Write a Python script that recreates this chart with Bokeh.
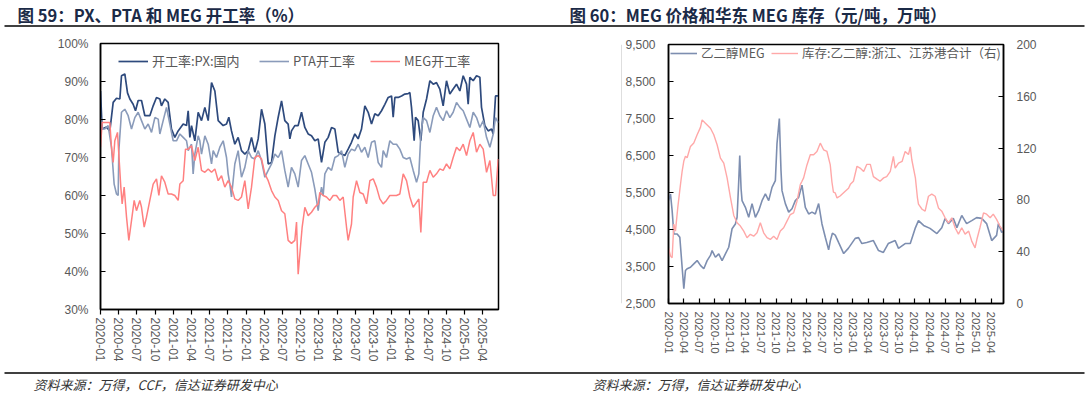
import math
from bokeh.plotting import figure
from bokeh.layouts import column, row
from bokeh.models import (Range1d, LinearAxis, FixedTicker, PrintfTickFormatter,
                          NumeralTickFormatter, Legend, LegendItem, AllLabels)
from bokeh.core.properties import value
from bokeh.embed import file_html
from bokeh.resources import INLINE

# ---------------- data ----------------
tick_months = list(range(0, 64, 3))
tick_labels = ["2020-01", "2020-04", "2020-07", "2020-10", "2021-01", "2021-04", "2021-07",
               "2021-10", "2022-01", "2022-04", "2022-07", "2022-10", "2023-01", "2023-04",
               "2023-07", "2023-10", "2024-01", "2024-04", "2024-07", "2024-10", "2025-01",
               "2025-04"]

# months since 2020-01
px_t = [0, 0.27, 0.99, 1.54, 2.09, 2.64, 3.19, 3.46, 4.01, 4.45, 4.84, 5.38, 5.77, 6.21, 6.76,
        7.31, 8.13, 8.68, 9.23, 9.78, 10.05, 10.60, 11.15, 11.70, 12.25, 12.80, 13.63, 14.18,
        14.45, 14.73, 15.00, 15.55, 16.10, 16.65, 17.20, 17.75, 18.30, 18.85, 19.40, 20.22,
        20.77, 21.15, 21.59, 22.14, 22.69, 23.24, 23.79, 24.34, 24.89, 25.44, 25.99, 26.54,
        27.09, 27.64, 28.19, 28.74, 29.29, 29.84, 30.38, 30.93, 31.21, 31.48, 32.03, 32.58,
        33.13, 33.68, 34.23, 34.78, 35.33, 35.88, 36.43, 36.98, 37.53, 38.08, 38.63, 39.18,
        39.73, 40.27, 40.82, 41.37, 41.92, 42.47, 43.02, 43.57, 44.12, 44.67, 45.22, 45.77,
        46.32, 46.87, 47.42, 47.97, 48.24, 48.52, 49.07, 49.62, 50.16, 50.71, 50.99, 51.26,
        51.70, 51.92, 52.36, 52.80, 53.19, 53.74, 54.29, 54.84, 55.38, 55.93, 56.48, 57.03,
        57.58, 58.13, 58.68, 59.23, 59.78, 60.33, 60.60, 60.88, 61.43, 61.98, 62.53, 62.80,
        63.35, 63.90, 64.45, 64.73, 65.11, 65.55]
px_v = [87.5, 77.5, 78, 77, 84.5, 85.6, 85.4, 91.5, 92, 87, 85.4, 84, 82.3, 85, 85,
        81, 81, 83.6, 85.8, 85.4, 83.6, 85.4, 84.5, 77.5, 75.3, 77, 78.8, 78.4,
        82.3, 75.3, 78.4, 74.4, 81.9, 79.7, 83.2, 79.7, 89.7, 87.5, 79.7, 78.4,
        78.8, 80.6, 77, 73.5, 75.3, 71.8, 70.9, 71.8, 75.3, 71.4, 74.9, 82.7,
        78.8, 68.3, 68.7, 75.7, 80.6, 84.9, 79.7, 78.8, 74.9, 77, 78.4, 78.4,
        81.9, 77.9, 76.2, 75.7, 74.4, 74.9, 68.7, 74, 75.3, 77.9, 77.5, 71.4,
        70.9, 70.5, 72.2, 74, 76.2, 74.9, 77.5, 83.6, 81.9, 78.8, 81.5, 81,
        82.3, 84, 85.8, 86.2, 80.6, 85.8, 85.8, 86.2, 86.7, 86.8, 87.1, 83.2,
        74.4, 80.6, 79.7, 74.4, 81.9, 85.4, 90.2, 89.3, 89.7, 88, 83.6, 90.2,
        86.7, 88, 89.3, 87.5, 91.5, 89.3, 84, 91.1, 90.2, 91.5, 91.1, 83.2,
        78.4, 77, 77.5, 76.2, 86.2, 86.2]

pta_t = [0, 0.27, 0.71, 1.26, 1.81, 2.25, 2.64, 2.91, 3.02, 3.46, 4.01, 4.56, 5.11, 5.66, 6.21,
         6.76, 7.31, 7.86, 8.41, 8.96, 9.51, 9.78, 10.33, 10.88, 11.43, 11.98, 12.53, 13.08,
         13.63, 14.18, 14.45, 15.00, 15.27, 15.55, 16.10, 16.37, 16.65, 17.20, 17.75, 18.30,
         18.57, 19.12, 19.67, 20.22, 20.77, 21.04, 21.32, 21.59, 22.14, 22.69, 23.24, 23.79,
         24.34, 24.89, 25.44, 25.99, 26.54, 27.09, 27.64, 28.19, 28.74, 29.29, 29.84, 30.38,
         30.93, 31.48, 32.03, 32.58, 33.13, 33.68, 34.23, 34.78, 35.33, 35.88, 36.15, 36.43,
         36.70, 36.98, 37.53, 38.08, 38.63, 39.18, 39.73, 40.27, 40.82, 41.37, 41.92, 42.47,
         43.02, 43.57, 44.12, 44.67, 45.22, 45.77, 46.32, 46.59, 47.14, 47.69, 48.24, 48.79,
         49.34, 49.89, 50.44, 50.99, 51.54, 52.09, 52.47, 52.80, 53.19, 53.74, 54.29, 54.84,
         55.38, 55.93, 56.48, 57.03, 57.58, 58.13, 58.68, 59.23, 59.78, 60.33, 60.88, 61.43,
         61.98, 62.53, 63.08, 63.63, 64.18, 64.73, 65.11, 65.55]
pta_v = [80.5, 77.5, 77.5, 78.4, 72.7, 63, 60.4, 60, 71.8, 81.9, 82.7, 81, 77.5, 80.5, 81.9,
         79.7, 77.5, 78.8, 76.6, 80.5, 80.1, 76.2, 79.7, 83.2, 78.8, 74.4, 74.4, 76.2,
         75.3, 74.4, 71.8, 73.5, 65.7, 70.9, 75.7, 74.4, 70.9, 75.7, 73.5, 68.3,
         71.8, 70, 72.7, 74.4, 70, 65.7, 63, 59.6, 68.3, 71.8, 64.8, 67.4,
         71.8, 70, 69.6, 71.8, 69.2, 64.8, 66.6, 68.3, 70.9, 70, 71.8, 66.6,
         62.2, 67.4, 65.7, 62.2, 69.2, 70.5, 68.3, 66.1, 61.7, 56, 59.6, 62.2,
         60, 65.7, 67.4, 66.6, 70, 70.5, 71.8, 67.4, 70.9, 72.2, 71.8, 73.5,
         71.4, 72.7, 70, 74, 74.4, 68.7, 67.4, 71.8, 70, 74.4, 73.5, 73.5,
         72.2, 70, 69.6, 70, 66.6, 63.5, 65.7, 76.2, 80.5, 79.7, 76.6, 81,
         83.2, 81, 79.7, 82.3, 80.5, 81.9, 84.5, 83.2, 82.3, 80.1, 77.9, 81.9,
         80.5, 77.9, 79.7, 75.3, 72.7, 76.2, 80.5, 79.2]

meg_t = [0, 0.27, 0.71, 1.54, 1.81, 2.09, 2.36, 2.80, 3.02, 3.35, 3.57, 3.90, 4.29, 4.67, 5.11,
         5.55, 5.93, 6.48, 6.76, 7.20, 7.58, 8.13, 8.68, 9.23, 9.62, 10.05, 10.60, 11.15, 11.70,
         12.25, 12.80, 13.08, 13.63, 14.01, 14.45, 15.00, 15.55, 16.10, 16.65, 17.20, 17.75,
         18.30, 18.85, 19.40, 19.95, 20.49, 21.04, 21.59, 22.14, 22.69, 23.24, 23.79, 24.34,
         24.89, 25.44, 25.99, 26.54, 27.09, 27.64, 28.19, 28.74, 29.29, 29.84, 30.38, 30.93,
         31.48, 32.03, 32.31, 32.58, 32.86, 33.24, 33.68, 34.23, 34.78, 35.33, 35.88, 36.15,
         36.70, 37.25, 37.80, 38.35, 38.90, 39.45, 40.00, 40.55, 40.82, 41.37, 41.65, 42.20,
         42.75, 43.30, 43.85, 44.40, 44.95, 45.49, 46.04, 46.59, 47.14, 47.69, 48.24, 48.79,
         49.34, 49.89, 50.44, 50.99, 51.54, 52.09, 52.47, 52.80, 53.19, 53.74, 54.29, 54.84,
         55.38, 55.93, 56.48, 57.03, 57.58, 58.13, 58.68, 59.23, 59.78, 60.33, 60.88, 61.43,
         61.98, 62.53, 63.08, 63.63, 64.18, 64.73, 65.11, 65.55]
meg_v = [72.7, 79.2, 79.2, 79.2, 72.7, 68.7, 74.4, 76.6, 70.9, 62.2, 57.8, 62.2, 54.3, 48.2, 53.4,
         58.7, 56, 58.7, 56.9, 51.7, 54.3, 58.7, 63, 64.4, 60, 65.2, 63.5, 60.4, 60.4,
         60, 58.7, 63, 63.9, 72.2, 72.2, 73.1, 69.2, 72.7, 66.6, 66.1, 67,
         66.1, 67, 63.9, 65.2, 62.2, 63.9, 62.2, 59.1, 58.7, 59.6, 63.9, 56.5,
         62.2, 70, 70.5, 69.6, 65.7, 63.9, 61.3, 59.6, 58.7, 56, 55.2, 48.2,
         47.4, 48.2, 53, 39.3, 44.6, 51.7, 56.9, 54.7, 55.6, 56.9, 57.8, 60.8,
         60, 59.6, 58.7, 60, 60, 58.7, 59.6, 51.7, 48.2, 52.5, 59.6, 63.9,
         60.8, 60.4, 57.8, 63.9, 64.4, 62.2, 59.1, 57.8, 58.7, 60, 60, 60,
         60.4, 65.7, 63.9, 59.6, 56.9, 58.2, 59.1, 50.3, 63.5, 63.5, 66.6, 64.8,
         65.7, 67, 66.6, 68.3, 67, 70, 72.7, 71.8, 73.5, 70.5, 74.4, 76.6,
         71.4, 73.5, 72.2, 66.1, 69.2, 60, 60, 69.6]

price_t = [0, 0.39, 0.71, 1.04, 1.69, 2.21, 2.66, 2.99, 3.31, 3.64, 4.29, 4.94, 5.59, 6.24, 6.89,
           7.54, 8.19, 8.51, 9.16, 9.81, 10.46, 11.11, 11.76, 12.41, 13.06, 13.39, 13.71, 13.91,
           14.17, 14.36, 15.01, 15.66, 16.31, 16.96, 17.61, 18.26, 18.91, 19.56, 20.21, 20.86,
           21.18, 21.64, 21.96, 22.16, 22.81, 23.46, 24.11, 24.76, 25.41, 26.06, 26.71, 27.36,
           28.01, 28.66, 29.31, 29.96, 30.61, 31.26, 31.6, 32.0, 32.55, 33.2, 34.2, 35.1, 36.45,
           37.1, 37.75, 38.7, 40.0, 41.0, 41.95, 42.9, 44.25, 44.9, 46.2, 47.2, 48.15, 48.8,
           49.8, 51.05, 52.4, 53.35, 54.0, 54.65, 55.6, 56.3, 57.25, 58.2, 59.2, 60.15, 61.15,
           62.1, 63.1, 64.05, 64.4, 65.05, 65.4]
price_v = [5280, 5460, 5010, 4380, 4380, 4290, 3480, 2900, 3390, 3440, 3480, 3570, 3660, 3530, 3440,
           3660, 3800, 3930, 3750, 3840, 3660, 3840, 4020, 4520, 4650, 4830, 5800, 6500,
           5600, 5280, 5100, 4830, 5200, 4830, 5010, 5280, 5460, 5280, 5640, 5820,
           6820, 7500, 6100, 5550, 5200, 4970, 5060, 5280, 5370, 5700, 5100, 4920,
           4970, 4920, 5200, 4650, 4290, 3950, 4200, 4400, 4350, 4150, 3850, 3990, 4260,
           4280, 4120, 4150, 4200, 3930, 3880, 4120, 4200, 3990, 4120, 4120, 4530, 4740,
           4610, 4530, 4390, 4550, 4800, 4660, 4800, 4550, 4880, 4660, 4740, 4820, 4800,
           4660, 4200, 4340, 4660, 4420, 4470]

inv_t = [0, 0.39, 0.71, 1.04, 1.36, 1.81, 2.34, 2.66, 2.99, 3.31, 3.64, 4.29, 4.94, 5.59, 6.24,
         6.56, 7.21, 8.19, 8.84, 9.49, 10.14, 10.79, 11.44, 12.09, 12.74, 13.39, 14.04, 14.69,
         15.33, 15.98, 16.63, 17.28, 17.93, 18.58, 19.23, 19.88, 20.53, 21.18, 21.83, 22.48,
         23.13, 23.78, 24.43, 25.08, 25.73, 26.06, 26.38, 27.03, 27.68, 28.33, 28.98, 29.63,
         30.28, 30.93, 31.58, 31.9, 32.2, 32.55, 32.9, 33.5, 34.5, 35.15, 35.5, 36.1, 36.8,
         37.4, 38.1, 38.7, 39.4, 40.0, 40.7, 41.3, 42.0, 42.6, 43.3, 43.9, 44.25, 44.9, 45.6,
         45.9, 46.2, 46.85, 47.2, 47.5, 48.2, 48.6, 48.8, 49.5, 50.1, 50.75, 51.4, 52.05, 52.7,
         53.35, 54.0, 54.65, 55.3, 55.95, 56.6, 57.25, 57.9, 58.6, 59.2, 59.85, 60.2, 60.8,
         61.5, 62.1, 62.8, 63.4, 64.05, 64.7, 65.4]
inv_v = [43, 36.7, 35.4, 61.3, 55.9, 74, 92, 102, 110, 113.7, 112.5, 121.3, 124, 130.3, 136,
         141.8, 139.2, 135.3, 130.3, 122.6, 112.3, 108.4, 97, 82, 68, 62.3, 59.8, 55.9,
         50.8, 53.4, 52, 54.6, 62.3, 54.6, 50.8, 49.5, 52, 49.5, 55.9, 58.5,
         63.6, 68.7, 70, 79, 91.8, 94.4, 97, 107, 114.9, 114.9, 117.4, 123.8,
         118.7, 117.4, 107, 94, 86, 85.4, 81.5, 83, 86.7, 89, 92, 94.4, 106,
         104.6, 102, 107.4, 107.4, 98, 96, 94.4, 97, 98, 102, 113.6, 104.6, 108.4, 109.7,
         113.6, 117.4, 115, 121, 111, 97, 81.5, 76.7, 72.8, 71.3, 82.8, 84.4, 82.8, 73.8,
         71.3, 66.2, 62.3, 66.2, 58.5, 53.6, 58.5, 53.6, 55.9, 48.2, 43, 49.4, 58.5,
         70, 69, 66.2, 69, 65, 59.8, 55.9]

title_left = "图 59：PX、PTA 和 MEG 开工率（%）"
title_right = "图 60：MEG 价格和华东 MEG 库存（元/吨，万吨）"
source_left = "资料来源：万得，CCF，信达证券研发中心"
source_right = "资料来源：万得，信达证券研发中心"
legend_left = ["开工率:PX:国内", "PTA开工率", "MEG开工率"]
legend_right = ["乙二醇MEG", "库存:乙二醇:浙江、江苏港合计（右)"]

C_PX = "#2E4A7D"
C_PTA = "#8A9BBA"
C_MEG = "#FF8080"
C_PRICE = "#7D8EB0"
C_INV = "#FFA8A8"
TXT = "#595959"
CJK = "Noto Sans CJK SC"
GREY_BORDER = "#BDBDBD"

tick_map = {m: lab for m, lab in zip(tick_months, tick_labels)}


def blank_fig(w, h, x0, x1, y0, y1):
    f = figure(width=w, height=h, output_backend="svg", toolbar_location=None,
               x_range=Range1d(x0, x1), y_range=Range1d(y1, y0),
               x_axis_type=None, y_axis_type=None, min_border=0)
    f.outline_line_color = None
    f.xgrid.visible = False
    f.ygrid.visible = False
    return f


def style_axis(ax, tick_in, tick_out, size="12px"):
    ax.axis_line_color = "black"
    ax.axis_line_width = 1.5
    ax.major_tick_line_color = "black"
    ax.major_tick_line_width = 1.2
    ax.major_tick_in = tick_in
    ax.major_tick_out = tick_out
    ax.minor_tick_line_color = None
    ax.major_label_text_color = TXT
    ax.major_label_text_font = "Liberation Sans"
    ax.major_label_text_font_size = size
    ax.major_label_policy = AllLabels()


def add_legend(p, label, renderer, vx, vy, size="13px", gw=30):
    lg = Legend(items=[LegendItem(label=label, renderers=[renderer])],
                location=(vx, vy), orientation="horizontal",
                padding=0, margin=0, spacing=0,
                glyph_width=gw, glyph_height=16, label_height=16, label_standoff=4,
                label_text_font=CJK, label_text_font_size=size,
                label_text_color=TXT, background_fill_alpha=0,
                border_line_color=None)
    p.add_layout(lg)


# ---------------- header (page y 0..30) ----------------
hdr = blank_fig(1088, 30, 0, 1088, 0, 30)
hdr.text(x=[17, 569], y=[14, 14], text=[title_left, title_right],
         text_font=value(CJK), text_font_style="bold", text_font_size="16.5px",
         text_color="#1B2A47", text_baseline="middle", text_align="left")
hdr.segment(x0=[4], y0=[25.5], x1=[1084], y1=[25.5], line_color="black", line_width=1.3)

# ---------------- left chart (page x 0..544, y 30..368) ----------------
p1 = figure(width=544, height=338, output_backend="svg", toolbar_location=None,
            x_range=Range1d(0, 65.6), y_range=Range1d(30, 100),
            min_border_left=100, min_border_right=46, min_border_top=13, min_border_bottom=59)
p1.xgrid.visible = False
p1.ygrid.visible = False
p1.outline_line_color = "black"
p1.outline_line_width = 1.5
r_px = p1.line(px_t, px_v, line_color=C_PX, line_width=1.7)
r_pta = p1.line(pta_t, pta_v, line_color=C_PTA, line_width=1.6)
r_meg = p1.line(meg_t, meg_v, line_color=C_MEG, line_width=1.5)
p1.xaxis.ticker = FixedTicker(ticks=tick_months)
p1.xaxis.major_label_overrides = tick_map
p1.xaxis.major_label_orientation = "vertical"
p1.xaxis.major_label_standoff = 3
style_axis(p1.xaxis[0], 0, 5)
p1.yaxis.ticker = FixedTicker(ticks=[30, 40, 50, 60, 70, 80, 90, 100])
p1.yaxis.formatter = PrintfTickFormatter(format="%d%%")
p1.yaxis.major_label_standoff = 12
style_axis(p1.yaxis[0], 5, 0)
add_legend(p1, legend_left[0], r_px, 18, 239)
add_legend(p1, legend_left[1], r_pta, 159, 239)
add_legend(p1, legend_left[2], r_meg, 270, 239)

# ---------------- right chart block (page x 544..1088) ----------------
# top strip (page y 30..35) with the grey chart-area border top edge
strip = blank_fig(544, 5, 544, 1088, 30, 35)
strip.segment(x0=[621], y0=[34.5], x1=[1042], y1=[34.5], line_color=GREY_BORDER, line_width=1)
# left gutter (page x 544..622, y 35..368) with the grey border left edge
gut = blank_fig(78, 333, 544, 622, 35, 368)
gut.segment(x0=[621.5], y0=[35], x1=[621.5], y1=[368], line_color=GREY_BORDER, line_width=1)

p2 = figure(width=466, height=333, output_backend="svg", toolbar_location=None,
            x_range=Range1d(0, 65.4), y_range=Range1d(2500, 9500),
            min_border_left=46, min_border_right=85, min_border_top=9, min_border_bottom=65)
p2.extra_y_ranges = {"inv": Range1d(0, 200)}
p2.xgrid.visible = False
p2.ygrid.visible = False
p2.outline_line_color = "black"
p2.outline_line_width = 1.5
r_price = p2.line(price_t, price_v, line_color=C_PRICE, line_width=1.6)
r_inv = p2.line(inv_t, inv_v, line_color=C_INV, line_width=1.4, y_range_name="inv")
p2.xaxis.ticker = FixedTicker(ticks=tick_months)
p2.xaxis.major_label_overrides = tick_map
p2.xaxis.major_label_orientation = "vertical"
p2.xaxis.major_label_standoff = 8
style_axis(p2.xaxis[0], 5, 0, "11.5px")
p2.yaxis.ticker = FixedTicker(ticks=[2500, 3500, 4500, 5500, 6500, 7500, 8500, 9500])
p2.yaxis.formatter = NumeralTickFormatter(format="0,0")
p2.yaxis.major_label_standoff = 13
style_axis(p2.yaxis[0], 5, 0)
ax_r = LinearAxis(y_range_name="inv", ticker=FixedTicker(ticks=[0, 40, 80, 120, 160, 200]))
ax_r.major_label_standoff = 13
style_axis(ax_r, 5, 0)
p2.add_layout(ax_r, "right")
add_legend(p2, legend_right[0], r_price, 2, 241, size="12.5px", gw=27)
add_legend(p2, legend_right[1], r_inv, 103, 241, size="12.5px", gw=27)

right_block = column(strip, row(gut, p2, spacing=0), spacing=0)

# ---------------- footer (page y 368..397) ----------------
ftr = blank_fig(1088, 29, 0, 1088, 0, 29)
ftr.segment(x0=[4], y0=[4.5], x1=[1084], y1=[4.5], line_color="black", line_width=1.3)
ftr.text(x=[33, 592], y=[15.5, 15.5], text=[source_left, source_right],
         text_font=value(CJK), text_font_style="italic", text_font_size="13px",
         text_color="#333333", text_baseline="middle", text_align="left")

layout = column(hdr, row(p1, right_block, spacing=0), ftr, spacing=0)
open("out.html", "w").write(file_html(layout, INLINE))
